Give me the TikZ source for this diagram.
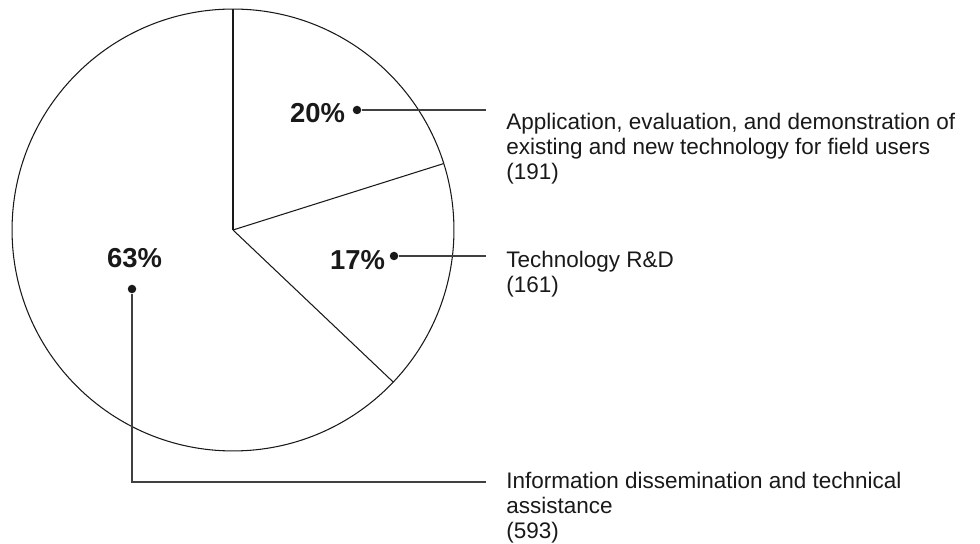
\documentclass[tikz,border=0pt]{standalone}
\usepackage{fontspec}
\setmainfont{Liberation Sans}
\tikzset{
  pct/.style={font=\fontsize{15.6}{18}\selectfont\bfseries, text=black!90, inner sep=0pt},
  desc/.style={font=\fontsize{12.8}{14.2}\selectfont, text=black!90, align=left, inner sep=0pt, anchor=north west},
  labeldot/.style={circle, fill=black!90, inner sep=0pt, minimum size=0.17cm},
  lead/.style={draw=black!75, line width=0.8pt},
  pieline/.style={draw=black!90, line width=0.6pt},
}
\begin{document}
\begin{tikzpicture}[x=0.02cm, y=0.02cm]
	\useasboundingbox (0,0) rectangle (980,544);
	\coordinate(O) at (233,314);

	\draw[pieline] (O) circle (4.42cm);
	\draw[pieline] (O) -- ++(90:4.42cm);
	\draw[pieline] (O) -- ++(17.5:4.42cm);
	\draw[pieline] (O) -- ++(-43.5:4.42cm);

	\node[pct](l20) at (317.5,431) {20\%};
	\node[pct](l17) at (357.5,284) {17\%};
	\node[pct](l63) at (134.5,285.5) {63\%};

	\node[labeldot](d20) at (357,434) {};
	\node[labeldot](d17) at (394,288) {};
	\node[labeldot](d63) at (132,255) {};

	\coordinate(e20) at (486,434);
	\coordinate(e17) at (486,288);
	\coordinate(e63) at (486,62);

	\node[desc](t20) at (506,431.5) {Application, evaluation, and demonstration of\\existing and new technology for field users\\(191)};
	\node[desc](t17) at (506,293.5) {Technology R\&D\\(161)};
	\node[desc](t63) at (506,72.5) {Information dissemination and technical\\assistance\\(593)};

	\draw[lead] (d20) -- (e20);
	\draw[lead] (d17) -- (e17);
	\draw[lead] (d63) |- (e63);
\end{tikzpicture}
\end{document}
